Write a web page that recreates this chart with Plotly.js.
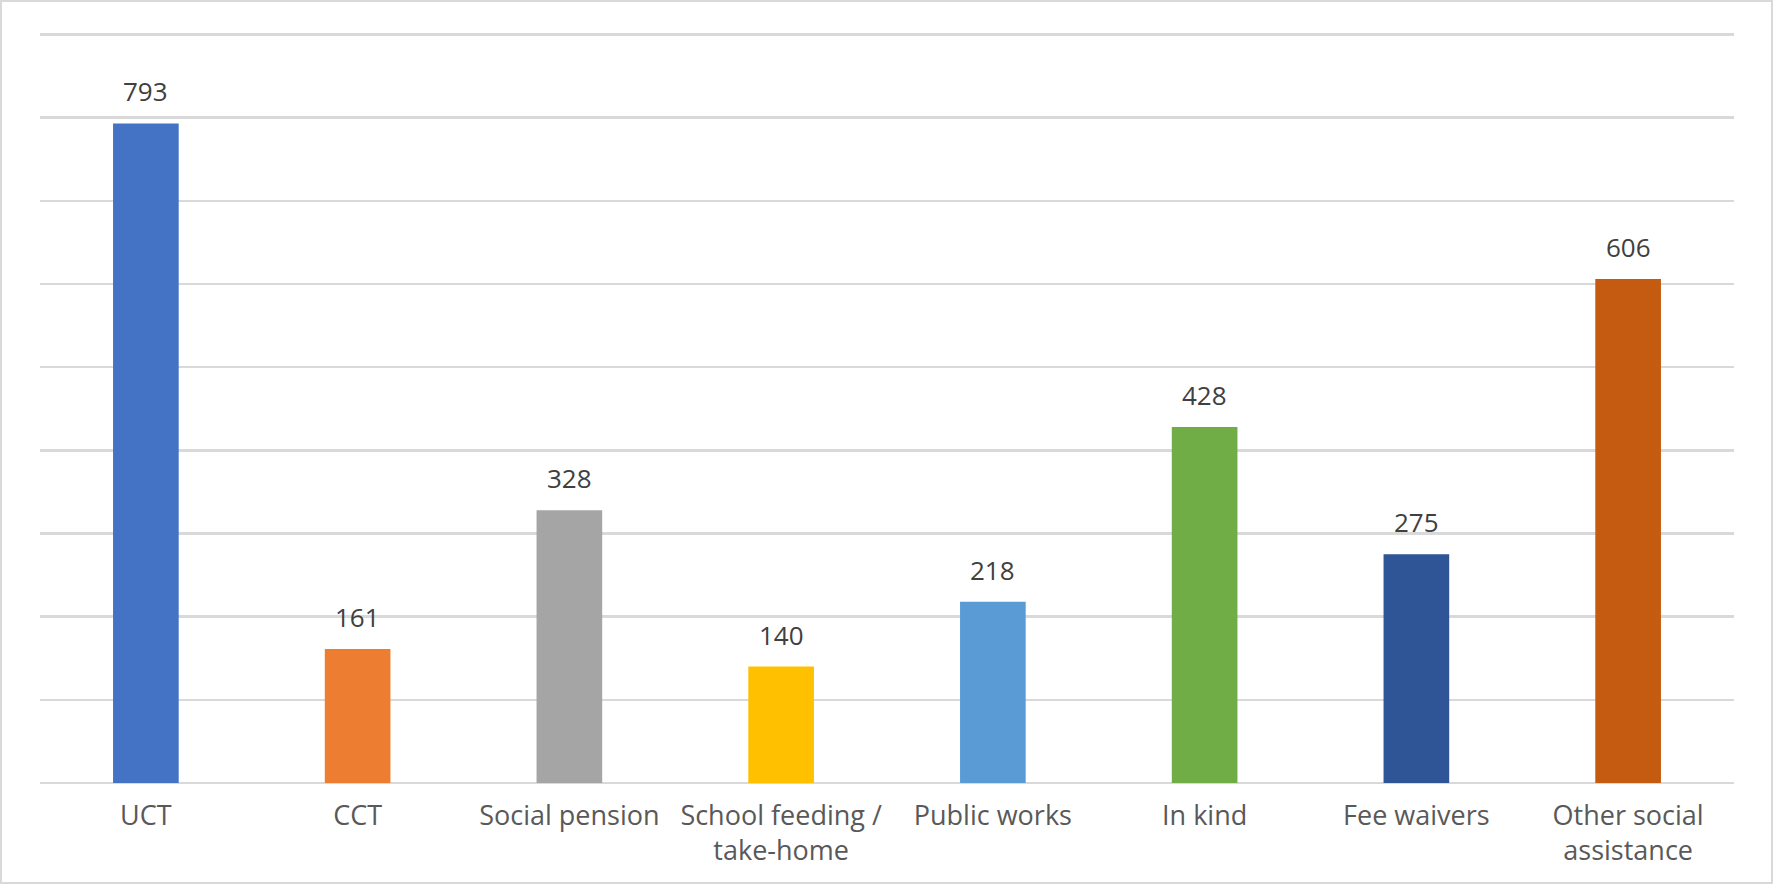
<!DOCTYPE html>
<html>
<head>
<meta charset="utf-8">
<script src="https://cdn.plot.ly/plotly-3.0.1.min.js"></script>
<style>
html,body{margin:0;padding:0;background:#fff;}
#frame{width:1769px;height:880px;border:2px solid #D9D9D9;}
#chart{width:1769px;height:880px;}
</style>
</head>
<body>
<div id="frame"><div id="chart"></div></div>
<script>
const categories = ["UCT", "CCT", "Social pension", "School feeding /<br>take-home", "Public works", "In kind", "Fee waivers", "Other social<br>assistance"];
const values = [793, 161, 328, 140, 218, 428, 275, 606];
const colors = ["#4472C4", "#ED7D31", "#A5A5A5", "#FFC000", "#5B9BD5", "#70AD47", "#2F5597", "#C55A11"];

const FONT = "'Open Sans', 'Noto Sans', sans-serif";

const trace = {
  type: "bar",
  x: categories,
  y: values,
  marker: {color: colors, line: {width: 0}},
  width: 0.31,
  hoverinfo: "none"
};

const annotations = categories.map((c, i) => ({
  x: c, y: values[i], xref: "x", yref: "y",
  text: String(values[i]),
  showarrow: false,
  yanchor: "bottom",
  yshift: 12,
  font: {family: FONT, size: 26, color: "#404040"}
}));

const layout = {
  width: 1769, height: 880,
  margin: {l: 38, r: 37, t: 30, b: 99},
  paper_bgcolor: "#FFFFFF",
  plot_bgcolor: "#FFFFFF",
  showlegend: false,
  xaxis: {
    type: "category",
    showgrid: false,
    showline: false,
    zeroline: false,
    ticks: "",
    tickfont: {family: FONT, size: 27, color: "#595959"},
    ticklabelstandoff: 14,
    fixedrange: true
  },
  yaxis: {
    range: [0, 903],
    dtick: 100,
    tick0: 0,
    showticklabels: false,
    showgrid: true,
    gridcolor: "#D9D9D9",
    gridwidth: 2.5,
    zeroline: true,
    zerolinecolor: "#D9D9D9",
    zerolinewidth: 2.5,
    ticks: "",
    fixedrange: true
  },
  annotations: annotations
};

Plotly.newPlot("chart", [trace], layout, {displayModeBar: false, staticPlot: true});
</script>
</body>
</html>
